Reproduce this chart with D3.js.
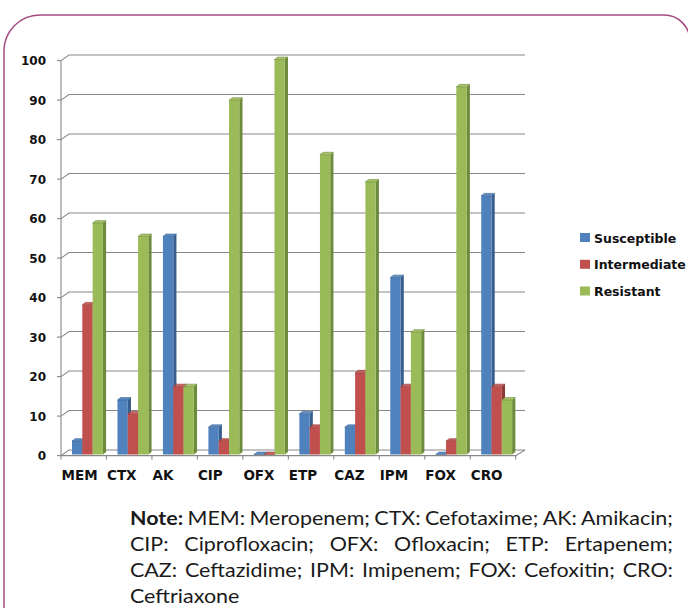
<!DOCTYPE html>
<html>
<head>
<meta charset="utf-8">
<script src="https://cdn.jsdelivr.net/npm/d3@7"></script>
<style>
  html, body { margin: 0; padding: 0; background: #fff; }
  svg { display: block; }
</style>
</head>
<body>
<svg id="chart" width="688" height="608"></svg>
<script>
// ---- data ----
const categories = ["MEM", "CTX", "AK", "CIP", "OFX", "ETP", "CAZ", "IPM", "FOX", "CRO"];
const seriesNames = ["Susceptible", "Intermediate", "Resistant"];
const susceptible  = [3.4, 13.8, 55.2, 6.9, 0, 10.3, 6.9, 44.8, 0, 65.5];
const intermediate = [37.9, 10.3, 17.2, 3.4, 0, 6.9, 20.7, 17.2, 3.4, 17.2];
const resistant    = [58.6, 55.2, 17.2, 89.7, 100, 75.9, 69.0, 31.0, 93.1, 13.8];
const yTicks = [0, 10, 20, 30, 40, 50, 60, 70, 80, 90, 100];
const noteLines = [
  ["Note:", "MEM:", "Meropenem;", "CTX:", "Cefotaxime;", "AK:", "Amikacin;"],
  ["CIP:", "Ciprofloxacin;", "OFX:", "Ofloxacin;", "ETP:", "Ertapenem;"],
  ["CAZ:", "Ceftazidime;", "IPM:", "Imipenem;", "FOX:", "Cefoxitin;", "CRO:"],
  ["Ceftriaxone"]
];

const seriesValues = [susceptible, intermediate, resistant];
const frontCol = ["#4F81BD", "#C0504D", "#9BBB59"];
const sideCol  = ["#385E8D", "#8D3936", "#6E8A3C"];
const topCol   = ["#5F8DC6", "#CB625F", "#A9C56C"];

const svg = d3.select("#chart");

// frame
svg.append("path")
  .attr("d", "M4,610 L4,51 A36,36 0 0 1 40,15 L664,15 A26,26 0 0 1 690,41")
  .attr("fill", "none").attr("stroke", "#a44c82").attr("stroke-width", 1.5);

// ---- scales ----
const x0 = 61, x1 = 515.7;           // front floor edge
const dX = 8, dY = -5.6;              // wall depth offset
const x = d3.scaleBand().domain(categories).range([x0, x1]).padding(0);
const yBack = d3.scaleLinear().domain([0, 100]).range([450, 55]);
const yFront = v => yBack(v) - dY;
const yBar = d3.scaleLinear().domain([0, 100]).range([454.5, 59.5]);
const inner = d3.scaleBand().domain(d3.range(3)).range([11, 11 + 3 * 10.3]).padding(0);
const bdx = 3.2, bdy = -2.4;          // bar depth

const gridColor = "#878787";
const chartFont = "'DejaVu Sans', Verdana, sans-serif";

// gridlines (back wall + side wall)
const grid = svg.append("g");
yTicks.forEach(v => {
  grid.append("path")
    .attr("d", `M${x0},${yFront(v)} L${x0 + dX},${yBack(v)} L${x1 + dX + 1.3},${yBack(v)}`)
    .attr("fill", "none").attr("stroke", gridColor).attr("stroke-width", 1.1);
});
// floor front edge + right edge
grid.append("path")
  .attr("d", `M${x0},${yFront(0)} L${x1},${yFront(0)} L${x1 + dX + 1.3},${yBack(0)}`)
  .attr("fill", "none").attr("stroke", gridColor).attr("stroke-width", 1.1);
// front y axis line
grid.append("line")
  .attr("x1", x0).attr("x2", x0).attr("y1", yFront(0)).attr("y2", yFront(100))
  .attr("stroke", gridColor).attr("stroke-width", 1.1);
// y ticks
yTicks.forEach(v => {
  grid.append("line").attr("x1", x0 - 4).attr("x2", x0).attr("y1", yFront(v)).attr("y2", yFront(v))
    .attr("stroke", gridColor).attr("stroke-width", 1.1);
});
// x ticks
categories.concat(["__end"]).forEach((c, i) => {
  const xx = i < categories.length ? x(c) : x1;
  grid.append("line").attr("x1", xx).attr("x2", xx).attr("y1", yFront(0)).attr("y2", yFront(0) + 4)
    .attr("stroke", gridColor).attr("stroke-width", 1.1);
});

// y labels
svg.append("g").selectAll("text").data(yTicks).join("text")
  .attr("x", 46).attr("y", d => yFront(d) + 4.5)
  .attr("text-anchor", "end")
  .attr("font-family", chartFont).attr("font-weight", "bold")
  .attr("font-size", 12).attr("fill", "#111")
  .text(d => d);

// x labels
svg.append("g").selectAll("text").data(categories).join("text")
  .attr("x", d => x(d) + 0.5).attr("y", 479.5)
  .attr("font-family", chartFont).attr("font-weight", "bold")
  .attr("font-size", 13.5).attr("fill", "#111")
  .text(d => d);

// bars
const bars = svg.append("g");
categories.forEach((c, ci) => {
  seriesValues.forEach((vals, si) => {
    const v = vals[ci];
    const bx = x(c) + inner(si);
    const bw = inner.bandwidth();
    const by = yBar(v), b0 = yBar(0);
    const g = bars.append("g");
    g.append("path")
      .attr("d", `M${bx + bw},${by} L${bx + bw + bdx},${by + bdy} L${bx + bw + bdx},${b0 + bdy} L${bx + bw},${b0} Z`)
      .attr("fill", sideCol[si]);
    g.append("rect").attr("x", bx).attr("y", by).attr("width", bw).attr("height", b0 - by)
      .attr("fill", frontCol[si]);
    g.append("path")
      .attr("d", `M${bx},${by} L${bx + bdx},${by + bdy} L${bx + bw + bdx},${by + bdy} L${bx + bw},${by} Z`)
      .attr("fill", topCol[si]).attr("stroke", sideCol[si]).attr("stroke-width", 0.6);
  });
});

// legend
const legendY = [242.5, 269.3, 296];
const lg = svg.append("g");
seriesNames.forEach((n, i) => {
  lg.append("rect").attr("x", 580).attr("y", legendY[i] - 9.5).attr("width", 10).attr("height", 9)
    .attr("fill", frontCol[i]);
  lg.append("text").attr("x", 594).attr("y", legendY[i])
    .attr("font-family", chartFont).attr("font-weight", "bold")
    .attr("font-size", 12.5).attr("fill", "#111").text(n);
});

// note (justified)
const noteLeft = 130, noteRight = 673;
const noteBase = [525, 551, 577, 603];
const noteFont = "Lato, 'Open Sans', sans-serif";
const noteSize = 18.5;
const spaceW = noteSize * 0.2;
const note = svg.append("g").attr("transform", `translate(${noteLeft},0)`);
const rows = noteLines.map((words, li) => {
  const t = note.append("text").attr("y", noteBase[li])
    .attr("font-family", noteFont).attr("font-size", noteSize).attr("fill", "#1a1a1a");
  const spans = words.map((w, wi) => t.append("tspan")
    .attr("font-weight", (li === 0 && wi === 0) ? "bold" : "normal").text(w));
  const widths = spans.map(s => s.node().getComputedTextLength());
  return { t, spans, widths };
});
// horizontal scale: fit first line (natural spacing) between left/right edges
const natural0 = d3.sum(rows[0].widths) + spaceW * (rows[0].widths.length - 1);
const sx = (noteRight - noteLeft) / natural0;
note.attr("transform", `translate(${noteLeft},0) scale(${sx},1)`);
const W = (noteRight - noteLeft) / sx;
rows.forEach((r, li) => {
  const n = r.widths.length;
  const justify = li < rows.length - 1 && n > 1;
  const gap = justify ? (W - d3.sum(r.widths)) / (n - 1) : spaceW;
  let cx = 0;
  r.spans.forEach((s, i) => { s.attr("x", cx); cx += r.widths[i] + gap; });
});
</script>
</body>
</html>
